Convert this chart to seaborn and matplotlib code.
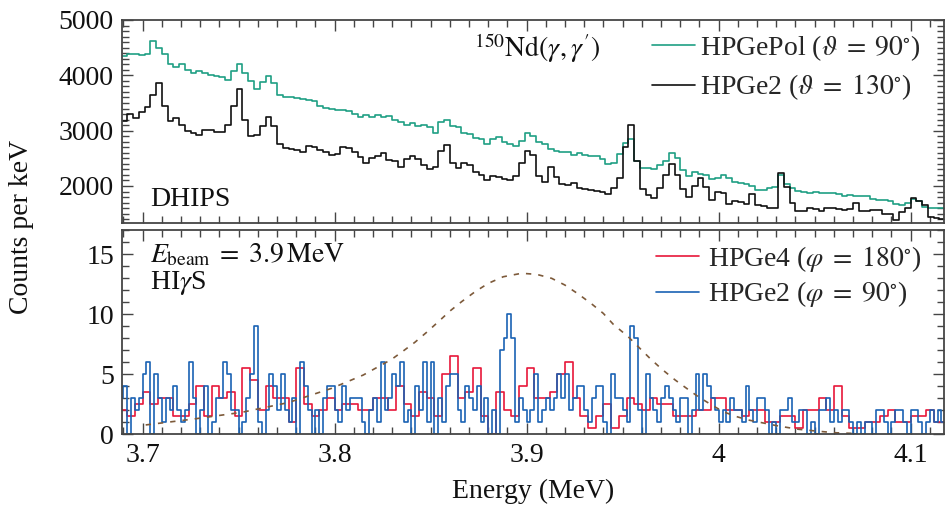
import numpy as np
import pandas as pd
import matplotlib
matplotlib.use("Agg")
import matplotlib.pyplot as plt
import matplotlib.ticker as mticker
from matplotlib.lines import Line2D
import seaborn as sns

# ---------------- DHIPS spectra (counts per keV, 3 keV bins from 3.689 MeV) ----------------
dhips_start = 3.689
dhips_width = 0.003
hpgepol_counts = [
    4350, 4390, 4390, 4370, 4380, 4620, 4500, 4380, 4200, 4150,
    4200, 4090, 4040, 4080, 4040, 4010, 3990, 3970, 3920, 4080,
    4200, 4050, 3890, 3750, 3880, 3990, 3860, 3640, 3600, 3610,
    3590, 3570, 3560, 3540, 3450, 3410, 3390, 3380, 3370, 3360,
    3300, 3240, 3280, 3250, 3280, 3240, 3260, 3200, 3150, 3110,
    3130, 3080, 3110, 3060, 2960, 3150, 3190, 3090, 3060, 2960,
    2940, 2870, 2840, 2750, 2850, 2880, 2790, 2760, 2730, 2820,
    2950, 2900, 2800, 2760, 2660, 2640, 2620, 2610, 2560, 2590,
    2560, 2550, 2540, 2480, 2400, 2420, 2580, 2780, 2840, 2450,
    2330, 2330, 2310, 2380, 2450, 2600, 2500, 2290, 2180, 2260,
    2220, 2190, 2120, 2140, 2200, 2150, 2080, 2060, 2040, 2000,
    1930, 1920, 1960, 1990, 2200, 2030, 1960, 1910, 1900, 1880,
    1890, 1870, 1880, 1870, 1850, 1820, 1830, 1820, 1810, 1820,
    1770, 1750, 1740, 1720, 1670, 1650, 1690, 1760, 1720, 1620,
    1610, 1600, 1600,
]
hpge2_dhips_counts = [
    3170, 3300, 3220, 3340, 3420, 3650, 3870, 3450, 3170, 3220,
    3100, 3000, 2960, 2930, 3020, 3010, 2970, 2980, 3100, 3450,
    3760, 3200, 2900, 2920, 3080, 3250, 3080, 2760, 2690, 2670,
    2650, 2610, 2730, 2700, 2650, 2620, 2560, 2570, 2700, 2680,
    2610, 2520, 2420, 2500, 2540, 2590, 2470, 2450, 2340, 2480,
    2540, 2480, 2380, 2300, 2340, 2640, 2740, 2420, 2330, 2410,
    2380, 2260, 2200, 2100, 2180, 2170, 2130, 2100, 2180, 2420,
    2640, 2560, 2180, 2080, 2340, 2160, 2040, 2010, 2050, 1970,
    1940, 1930, 1910, 1900, 1860, 1960, 2150, 2700, 3110, 2450,
    1950, 1840, 1790, 1960, 2200, 2400, 2200, 1950, 1800, 2000,
    2140, 1980, 1740, 1900, 1880, 1680, 1720, 1710, 1670, 1860,
    1660, 1640, 1600, 1610, 2240, 1980, 1700, 1540, 1540, 1600,
    1590, 1550, 1610, 1600, 1580, 1570, 1590, 1700, 1550, 1540,
    1560, 1560, 1500, 1490, 1380, 1530, 1600, 1780, 1720, 1660,
    1440, 1420, 1410,
]

# ---------------- HIgS spectra (counts per keV) ----------------
higs_start = 3.688
hpge2_width = 0.002
hpge2_higs_counts = [
    3, 4, 0, 3, 2, 3, 5, 6, 0, 5,
    3, 1, 3, 2, 4, 2, 1, 2, 6, 3,
    0, 2, 4, 0, 1, 3, 3, 6, 5, 2,
    2, 0, 1, 3, 5, 9, 1, 0, 2, 5,
    4, 2, 5, 2, 1, 3, 0, 6, 4, 2,
    0, 2, 0, 3, 4, 4, 2, 1, 4, 2,
    3, 3, 3, 1, 0, 2, 3, 1, 6, 2,
    3, 5, 4, 6, 1, 2, 0, 4, 2, 6,
    1, 6, 0, 3, 1, 4, 5, 5, 2, 1,
    4, 3, 2, 4, 1, 3, 0, 2, 0, 7,
    8, 10, 8, 1, 3, 2, 1, 2, 5, 1,
    2, 3, 2, 3, 5, 3, 5, 2, 3, 4,
    4, 2, 1, 3, 4, 4, 1, 0, 5, 3,
    3, 2, 1, 9, 8, 2, 0, 5, 3, 2,
    1, 3, 4, 3, 2, 1, 3, 3, 0, 2,
    5, 2, 5, 4, 3, 2, 1, 2, 1, 3,
    2, 2, 1, 4, 2, 1, 3, 3, 2, 0,
    1, 0, 2, 2, 3, 1, 1, 2, 2, 0,
    1, 0, 2, 2, 3, 1, 2, 1, 2, 2,
    1, 0, 1, 0, 1, 1, 0, 2, 2, 1,
    0, 1, 2, 2, 1, 0, 2, 2, 1, 0,
    1, 2, 1, 2, 1,
]
hpge4_width = 0.004
hpge4_counts = [
    2, 1.5, 2.5, 3.5, 2.5, 3, 3, 1.5, 1.5, 2.5,
    4, 1.5, 4, 3, 3.5, 1.5, 5.5, 4.5, 2, 4,
    3, 3, 1, 5.5, 2.5, 1.5, 2, 3, 2, 2.5,
    2.5, 2, 2, 3, 3, 2, 4, 2.5, 1.5, 3.5,
    3, 1.5, 5, 6.5, 3, 3.5, 5.5, 1.5, 0, 3.5,
    2, 1.5, 4, 5.5, 3, 3, 3.5, 5, 6, 3,
    1.5, 0.5, 1.5, 2.5, 0.5, 1.5, 3, 2.5, 2, 3,
    2.5, 2.5, 1.5, 1.5, 1.5, 2, 2, 3, 3, 2,
    2, 1.5, 2, 2, 1, 1, 1.5, 1.5, 0.5, 2,
    2, 3, 2, 4, 1.5, 0.5, 0.5, 1, 1, 1.5,
    2, 1, 1, 1.5, 1.5, 2, 1, 1,
]

# Beam energy profile (scaled), sampled points
beam_energy = [
    3.7016, 3.7264, 3.7516, 3.7758, 3.7984, 3.8149, 3.8297, 3.8357, 3.8418,
    3.8479, 3.8540, 3.8601, 3.8661, 3.8731, 3.8800, 3.8878, 3.8974, 3.9052,
    3.9130, 3.9199, 3.9269, 3.9339, 3.9399, 3.9451, 3.9529, 3.9581, 3.9642,
    3.9703, 3.9773, 3.9833, 3.9894, 3.9964, 4.0024, 4.0094, 4.0155, 4.0224,
    4.0311, 4.0415, 4.0502, 4.0606, 4.0693,
]
beam_profile = [
    0.78, 1.27, 1.83, 2.64, 3.83, 4.94, 6.25, 6.94, 7.67,
    8.50, 9.38, 10.28, 11.05, 11.88, 12.58, 13.13, 13.42, 13.33,
    13.00, 12.44, 11.69, 10.86, 10.08, 9.17, 8.13, 7.30, 6.33,
    5.44, 4.53, 3.83, 3.13, 2.44, 1.88, 1.47, 1.19, 0.97,
    0.69, 0.42, 0.28, 0.13, 0.08,
]

x_ticks = [3.7, 3.8, 3.9, 4.0, 4.1]
top_yticks = [2000, 3000, 4000, 5000]
bot_yticks = [0, 5, 10, 15]

GREEN = "#1f9f84"
BLACK = "#111111"
RED = "#e8173a"
BLUE = "#1a62b4"
BROWN = "#7d5a3a"
SPINE = "#454545"
FS = 20

sns.set_theme(style="ticks")
plt.rcParams.update({
    "font.family": ["Liberation Serif", "DejaVu Serif"],
    "mathtext.fontset": "stix",
    "font.size": FS,
    "xtick.labelsize": FS,
    "ytick.labelsize": FS,
    "legend.fontsize": FS,
    "axes.edgecolor": SPINE,
    "axes.linewidth": 1.3,
    "xtick.color": SPINE,
    "ytick.color": SPINE,
    "xtick.labelcolor": "#111111",
    "ytick.labelcolor": "#111111",
})


def spectrum_frame(start, width, values):
    n = len(values)
    edges = start + width * np.arange(n + 1)
    centers = 0.5 * (edges[:-1] + edges[1:])
    return pd.DataFrame({"energy": centers, "counts": values}), list(edges)


def draw_step(ax, start, width, values, color):
    df, edges = spectrum_frame(start, width, values)
    sns.histplot(data=df, x="energy", weights="counts", bins=edges,
                 element="step", fill=False, color=color, linewidth=1.2,
                 ax=ax)


fig = plt.figure(figsize=(9.5, 5.05), dpi=100)
ax_top = fig.add_axes([0.1287, 0.5578, 0.8655, 0.4026])
ax_bot = fig.add_axes([0.1287, 0.1400, 0.8655, 0.4051])

xlim = (3.6894, 4.1176)

# --- upper panel: DHIPS ---
draw_step(ax_top, dhips_start, dhips_width, hpgepol_counts, GREEN)
draw_step(ax_top, dhips_start, dhips_width, hpge2_dhips_counts, BLACK)
ax_top.set_xlim(*xlim)
ax_top.set_ylim(1325, 5000)
ax_top.set_yticks(top_yticks)
ax_top.yaxis.set_minor_locator(mticker.MultipleLocator(100))

# --- lower panel: HIgS ---
draw_step(ax_bot, higs_start, hpge4_width, hpge4_counts, RED)
draw_step(ax_bot, higs_start, hpge2_width, hpge2_higs_counts, BLUE)
sns.lineplot(x=beam_energy, y=beam_profile, color=BROWN, linewidth=1.2,
             linestyle=(0, (3.2, 4.2)), ax=ax_bot, sort=True)
ax_bot.set_xlim(*xlim)
ax_bot.set_ylim(0, 17.05)
ax_bot.set_yticks(bot_yticks)
ax_bot.yaxis.set_minor_locator(mticker.MultipleLocator(1))

for ax in (ax_top, ax_bot):
    ax.set_xticks(x_ticks)
    ax.xaxis.set_minor_locator(mticker.MultipleLocator(0.01))
    ax.tick_params(which="both", direction="in", top=True, right=True,
                   width=1.0, labelsize=FS)
    ax.tick_params(which="major", length=8, pad=6)
    ax.tick_params(which="minor", length=5)
    ax.set_xlabel("")
    ax.set_ylabel("")

ax_top.tick_params(axis="x", labelbottom=False)
ax_bot.xaxis.set_major_formatter(mticker.FuncFormatter(lambda v, p: f"{v:g}"))

# annotations
ax_top.text(0.034, 0.115, "DHIPS", transform=ax_top.transAxes,
            ha="left", va="center", color="#111111")
ax_top.text(0.504, 0.86, r"$^{150}\mathrm{Nd}(\gamma,\gamma^{\prime})$",
            transform=ax_top.transAxes, ha="center", va="center",
            color="#111111")
ax_bot.text(0.034, 0.875, r"$E_{\mathrm{beam}}\;=\;3.9\,\mathrm{MeV}$",
            transform=ax_bot.transAxes, ha="left", va="center",
            color="#111111")
ax_bot.text(0.034, 0.74, r"HI$\gamma$S", transform=ax_bot.transAxes,
            ha="left", va="center", color="#111111")

top_handles = [Line2D([], [], color=GREEN, lw=1.2),
               Line2D([], [], color=BLACK, lw=1.2)]
ax_top.legend(top_handles,
              [r"HPGePol ($\vartheta\;=\;90^{\circ}$)",
               r"HPGe2 ($\vartheta\;=\;130^{\circ}$)"],
              loc="upper right", bbox_to_anchor=(0.985, 0.99),
              frameon=False, handlelength=1.55, handletextpad=0.2,
              labelspacing=0.35, borderaxespad=0, fontsize=FS)
bot_handles = [Line2D([], [], color=RED, lw=1.2),
               Line2D([], [], color=BLUE, lw=1.2)]
ax_bot.legend(bot_handles,
              [r"HPGe4 ($\varphi\;=\;180^{\circ}$)",
               r"HPGe2 ($\varphi\;=\;90^{\circ}$)"],
              loc="upper right", bbox_to_anchor=(0.985, 0.985),
              frameon=False, handlelength=1.55, handletextpad=0.3,
              labelspacing=0.2, borderaxespad=0, fontsize=FS)

fig.text(0.023, 0.5505, "Counts per keV", rotation=90, ha="center",
         va="center", color="#111111")
fig.text(0.5615, 0.026, "Energy (MeV)", ha="center", va="center",
         color="#111111")

fig.savefig("out.png", dpi=100)
